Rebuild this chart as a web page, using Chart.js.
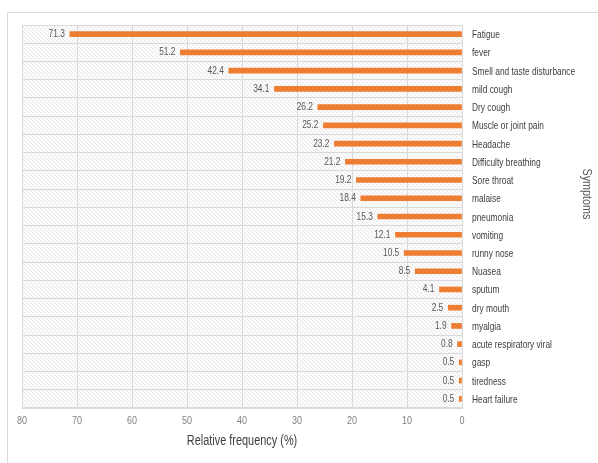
<!DOCTYPE html>
<html>
<head>
<meta charset="utf-8">
<script src="https://cdn.jsdelivr.net/npm/chart.js@4"></script>
<style>
  html, body { margin: 0; padding: 0; background: #fff; }
  #wrap { position: relative; width: 598px; height: 463px; }
  #frame { position: absolute; left: 7px; top: 12px; width: 600px; height: 460px; border: 1px solid #d9d9d9; }
  #chart { position: absolute; left: 0; top: 0; }
</style>
</head>
<body>
<div id="wrap">
  <div id="frame"></div>
  <canvas id="chart" width="598" height="463"></canvas>
</div>
<script>
// Symptoms and their relative frequency (%)
const symptoms = [
  'Fatigue', 'fever', 'Smell and taste disturbance', 'mild cough', 'Dry cough',
  'Muscle or joint pain', 'Headache', 'Difficulty breathing', 'Sore throat', 'malaise',
  'pneumonia', 'vomiting', 'runny nose', 'Nuasea', 'sputum', 'dry mouth', 'myalgia',
  'acute respiratory viral', 'gasp', 'tiredness', 'Heart failure'
];
const frequency = [
  71.3, 51.2, 42.4, 34.1, 26.2, 25.2, 23.2, 21.2, 19.2, 18.4,
  15.3, 12.1, 10.5, 8.5, 4.1, 2.5, 1.9, 0.8, 0.5, 0.5, 0.5
];
const xTicks = [0, 10, 20, 30, 40, 50, 60, 70, 80];
const xTitle = 'Relative frequency (%)';
const yTitle = 'Symptoms';

const fontFamily = "'Liberation Sans', Arial, sans-serif";

// Hatched plot background
function makeHatch() {
  const c = document.createElement('canvas');
  c.width = 4;
  c.height = 4;
  const g = c.getContext('2d');
  g.fillStyle = '#fcfcfc';
  g.fillRect(0, 0, 4, 4);
  g.strokeStyle = '#e8e8e8';
  g.lineWidth = 1;
  g.beginPath();
  g.moveTo(0, 0); g.lineTo(4, 4);
  g.moveTo(-2, 2); g.lineTo(2, 6);
  g.moveTo(2, -2); g.lineTo(6, 2);
  g.stroke();
  return g.createPattern(c, 'repeat');
}

const hatchBackground = {
  id: 'hatchBackground',
  beforeDraw(chart) {
    const { ctx, chartArea } = chart;
    ctx.save();
    ctx.fillStyle = makeHatch();
    ctx.fillRect(chartArea.left, chartArea.top, chartArea.right - chartArea.left, chartArea.bottom - chartArea.top);
    ctx.restore();
  }
};

// narrow (Calibri-like) text: squeeze the glyphs horizontally
function narrowText(ctx, text, x, y, opts) {
  ctx.save();
  ctx.font = opts.size + 'px ' + fontFamily;
  ctx.fillStyle = opts.color;
  ctx.textAlign = opts.align || 'left';
  ctx.textBaseline = 'middle';
  ctx.translate(x, y);
  if (opts.rotate) ctx.rotate(opts.rotate);
  ctx.scale(opts.squeeze || 0.76, 1);
  ctx.fillText(text, 0, 0);
  ctx.restore();
}

// axis labels, titles and bar values
const textLayer = {
  id: 'textLayer',
  afterDraw(chart) {
    const { ctx, scales: { x, y } } = chart;
    const meta = chart.getDatasetMeta(0);

    meta.data.forEach((bar, i) => {
      narrowText(ctx, frequency[i].toString(), bar.x - 5, bar.y, { size: 11, color: '#595959', align: 'right' });
    });

    symptoms.forEach((s, i) => {
      narrowText(ctx, s, x.right + 10, y.getPixelForValue(i) + 1, { size: 11, color: '#404040' });
    });

    xTicks.forEach(v => {
      narrowText(ctx, v.toString(), x.getPixelForValue(v), x.top + 13, { size: 11, color: '#808080', align: 'center', squeeze: 0.82 });
    });

    narrowText(ctx, xTitle, (x.left + x.right) / 2, x.top + 33, { size: 14, color: '#404040', align: 'center', squeeze: 0.78 });
    narrowText(ctx, yTitle, 586, 194, { size: 12, color: '#595959', align: 'center', rotate: Math.PI / 2, squeeze: 0.9 });
  }
};

new Chart(document.getElementById('chart'), {
  type: 'bar',
  data: {
    labels: symptoms,
    datasets: [{
      data: frequency,
      backgroundColor: '#ED7D31',
      barThickness: 5
    }]
  },
  options: {
    indexAxis: 'y',
    responsive: false,
    animation: false,
    layout: { padding: { left: 22, top: 25, right: 0, bottom: 0 } },
    plugins: {
      legend: { display: false },
      tooltip: { enabled: false }
    },
    scales: {
      x: {
        reverse: true,
        min: 0,
        max: 80,
        afterBuildTicks: (scale) => { scale.ticks = xTicks.map(v => ({ value: v })); },
        afterFit: (scale) => { scale.height = 55; },
        grid: { color: '#d9d9d9', drawTicks: false },
        border: { color: '#d9d9d9' },
        ticks: { display: false }
      },
      y: {
        position: 'right',
        afterFit: (scale) => { scale.width = 136; },
        grid: { color: '#d9d9d9', drawTicks: false },
        border: { color: '#d9d9d9' },
        ticks: { display: false, autoSkip: false }
      }
    }
  },
  plugins: [hatchBackground, textLayer]
});
</script>
</body>
</html>
